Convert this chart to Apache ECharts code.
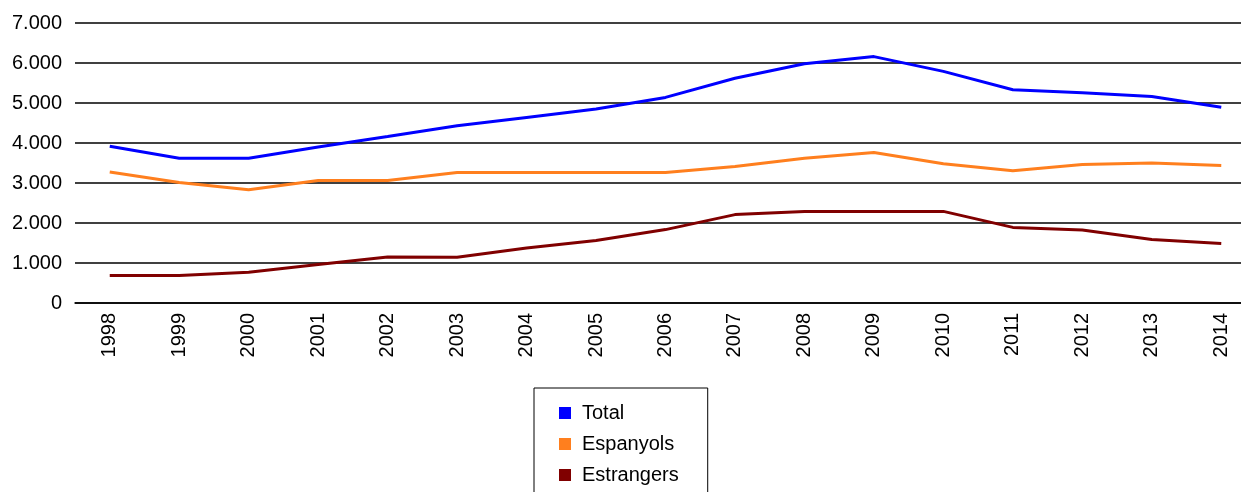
<!DOCTYPE html>
<html>
<head>
<meta charset="utf-8">
<script src="https://cdn.jsdelivr.net/npm/echarts@6/dist/echarts.min.js"></script>
<style>html,body{margin:0;padding:0;background:#fff}#c{width:1241px;height:492px}</style>
</head>
<body>
<div id="c"></div>
<script>
const years = ['1998','1999','2000','2001','2002','2003','2004','2005','2006','2007','2008','2009','2010','2011','2012','2013','2014'];
const total = [3920,3620,3620,3900,4160,4430,4640,4850,5140,5620,5980,6160,5790,5330,5255,5160,4895];
const espanyols = [3275,3015,2830,3060,3060,3265,3265,3265,3265,3415,3620,3765,3480,3305,3465,3500,3440];
const estrangers = [686,686,770,960,1150,1143,1375,1560,1835,2210,2290,2290,2290,1890,1825,1585,1490];
const seriesNames = ['Total','Espanyols','Estrangers'];
const colors = ['#0000ff','#ff7f1e','#800000'];

const chart = echarts.init(document.getElementById('c'));
const font = 'Liberation Sans, Arial, sans-serif';
chart.setOption({
  animation: false,
  color: colors,
  grid: {left: 75, width: 1181, top: 23, height: 280, containLabel: false, outerBoundsMode: 'none'},
  legend: {
    orient: 'vertical', left: 534, top: 388, height: 140,
    data: seriesNames,
    icon: 'rect', itemWidth: 12, itemHeight: 12, itemGap: 11,
    borderColor: '#000', borderWidth: 1,
    padding: [15, 29, 20, 25],
    textStyle: {fontFamily: font, fontSize: 20, color: '#000', padding: [0, 0, 0, 6]}
  },
  xAxis: {
    type: 'category', data: years, boundaryGap: true,
    axisLine: {show: true, lineStyle: {color: '#000', width: 1.5}},
    axisTick: {show: false},
    axisLabel: {rotate: 90, fontFamily: font, fontSize: 20, color: '#000', margin: 10}
  },
  yAxis: {
    type: 'value', min: 0, max: 7000, interval: 1000,
    axisLine: {show: false}, axisTick: {show: false},
    splitLine: {lineStyle: {color: '#000', width: 1.5}},
    axisLabel: {
      fontFamily: font, fontSize: 20, color: '#000', margin: 13,
      formatter: v => v === 0 ? '0' : (v/1000) + '.000'
    }
  },
  series: [
    {name: seriesNames[0], type: 'line', data: total, symbol: 'none', lineStyle: {width: 3}},
    {name: seriesNames[1], type: 'line', data: espanyols, symbol: 'none', lineStyle: {width: 3}},
    {name: seriesNames[2], type: 'line', data: estrangers, symbol: 'none', lineStyle: {width: 3}}
  ]
});
</script>
</body>
</html>
